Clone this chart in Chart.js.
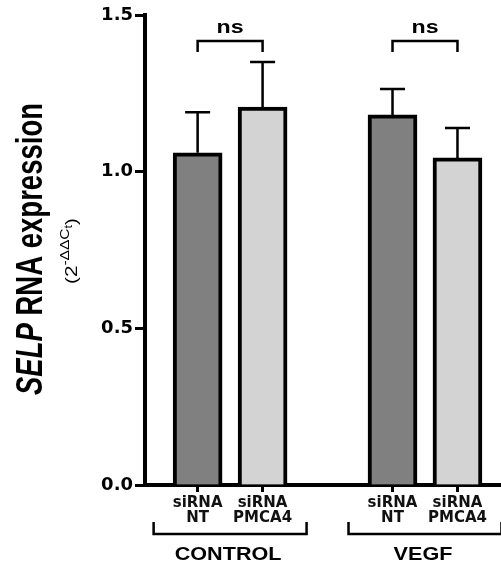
<!DOCTYPE html>
<html><head><meta charset="utf-8">
<script src="https://cdn.jsdelivr.net/npm/chart.js@4/dist/chart.umd.min.js"></script>
<style>html,body{margin:0;padding:0;background:#fff;overflow:hidden}</style>
</head><body>
<div style="position:relative;width:501px;height:563px"><canvas id="c" width="501" height="563"></canvas></div>
<script>
// ---- data ----
const categories = ['siRNA NT', 'siRNA PMCA4', 'siRNA NT', 'siRNA PMCA4'];
const tickLabels = [['siRNA', 'NT'], ['siRNA', 'PMCA4'], ['siRNA', 'NT'], ['siRNA', 'PMCA4']];
const groupOfBar = [0, 0, 1, 1];
const groups = ['CONTROL', 'VEGF'];
const means = [1.06, 1.206, 1.181, 1.044];
const sems = [0.13, 0.144, 0.083, 0.095];
const comparisons = [[0, 1, 'ns'], [2, 3, 'ns']];
const yTicks = [0.0, 0.5, 1.0, 1.5];
const yTitleItalic = 'SELP';
const yTitleRest = ' RNA expression';

// x position: bars inside a group are adjacent, one empty slot between groups
const positions = categories.map((c, i) => {
  const g = groupOfBar[i];
  const idxInGroup = groupOfBar.slice(0, i).filter(v => v === g).length;
  const before = groupOfBar.filter(v => v < g).length;
  return before + g + idxInGroup;
});

function stretchText(ctx, text, cx, by, sx) {
  ctx.save();
  ctx.translate(cx, by);
  ctx.scale(sx, 1);
  ctx.textAlign = 'center';
  ctx.textBaseline = 'alphabetic';
  ctx.fillText(text, 0, 0);
  ctx.restore();
}

const annot = {
  id: 'annot',
  afterDatasetsDraw(chart) {
    const {ctx, scales: {x, y}} = chart;
    ctx.save();
    ctx.strokeStyle = '#000';
    ctx.lineWidth = 2.5;
    positions.forEach((p, i) => {
      const px = x.getPixelForValue(p);
      const yb = y.getPixelForValue(means[i]);
      const yt = y.getPixelForValue(means[i] + sems[i]);
      ctx.beginPath();
      ctx.moveTo(px, yb); ctx.lineTo(px, yt);
      ctx.moveTo(px - 12.5, yt); ctx.lineTo(px + 12.5, yt);
      ctx.stroke();
    });
    ctx.restore();
  },
  afterDraw(chart) {
    const {ctx, scales: {x, y}} = chart;
    ctx.save();
    ctx.strokeStyle = '#000';
    ctx.fillStyle = '#000';
    ctx.lineWidth = 2.5;
    // significance brackets
    comparisons.forEach(([a, b, txt]) => {
      const xa = x.getPixelForValue(positions[a]);
      const xb = x.getPixelForValue(positions[b]);
      ctx.beginPath();
      ctx.moveTo(xa, 52); ctx.lineTo(xa, 41); ctx.lineTo(xb, 41); ctx.lineTo(xb, 52);
      ctx.stroke();
      ctx.font = 'bold 19px "Liberation Sans", Arial, sans-serif';
      stretchText(ctx, txt, (xa + xb) / 2, 33, 1.22);
    });
    // group brackets
    groups.forEach((g, gi) => {
      const idx = groupOfBar.map((v, i) => v === gi ? i : -1).filter(i => i >= 0);
      const xf = x.getPixelForValue(positions[idx[0]]);
      const xl = x.getPixelForValue(positions[idx[idx.length - 1]]);
      ctx.beginPath();
      ctx.moveTo(xf - 44, 522); ctx.lineTo(xf - 44, 534); ctx.lineTo(xl + 44, 534); ctx.lineTo(xl + 44, 522);
      ctx.stroke();
      ctx.font = 'bold 18px "Liberation Sans", Arial, sans-serif';
      stretchText(ctx, g, (xf + xl) / 2 - 2, 560, 1.2);
    });
    // y axis title (rotated)
    const fItal = 'italic bold 37px "Liberation Sans", Arial, sans-serif';
    const fBold = 'bold 37px "Liberation Sans", Arial, sans-serif';
    ctx.font = fItal; const w1 = ctx.measureText(yTitleItalic).width;
    ctx.font = fBold; const w2 = ctx.measureText(yTitleRest).width;
    const total = w1 + w2;
    const sx = 292 / total;
    ctx.save();
    ctx.translate(42, 249);
    ctx.rotate(-Math.PI / 2);
    ctx.scale(sx, 1);
    ctx.textBaseline = 'alphabetic';
    ctx.textAlign = 'left';
    ctx.font = fItal; ctx.fillText(yTitleItalic, -total / 2, 0);
    ctx.font = fBold; ctx.fillText(yTitleRest, -total / 2 + w1, 0);
    ctx.restore();
    // subtitle (2^-ΔΔCt)
    const parts = [
      {t: '(2', f: '16px "Liberation Sans", Arial, sans-serif', dy: 0},
      {t: '-\u0394\u0394C', f: '12px "Liberation Sans", Arial, sans-serif', dy: -8},
      {t: 't', f: '10px "Liberation Sans", Arial, sans-serif', dy: -5},
      {t: ')', f: '16px "Liberation Sans", Arial, sans-serif', dy: 0}
    ];
    let tw = 0;
    parts.forEach(p => { ctx.font = p.f; p.w = ctx.measureText(p.t).width; tw += p.w; });
    const ssx = 66 / tw;
    ctx.save();
    ctx.translate(77, 251);
    ctx.rotate(-Math.PI / 2);
    ctx.scale(ssx, 1);
    ctx.textAlign = 'left';
    ctx.textBaseline = 'alphabetic';
    let cx = -tw / 2;
    parts.forEach(p => { ctx.font = p.f; ctx.fillText(p.t, cx, p.dy); cx += p.w; });
    ctx.restore();
    ctx.restore();
  }
};

new Chart(document.getElementById('c'), {
  type: 'bar',
  data: {
    labels: categories,
    datasets: [{
      label: 'SELP',
      data: positions.map((p, i) => ({x: p, y: means[i]})),
      backgroundColor: ['#808080', '#d3d3d3', '#808080', '#d3d3d3'],
      borderColor: '#000',
      borderWidth: 4,
      barThickness: 49
    }]
  },
  options: {
    responsive: false,
    devicePixelRatio: 1,
    animation: false,
    layout: {padding: {top: 15, right: 0, left: 0, bottom: 0}},
    plugins: {legend: {display: false}, tooltip: {enabled: false}},
    scales: {
      x: {
        type: 'linear',
        position: 'bottom',
        offset: false,
        min: -0.81,
        max: 4.67,
        z: 1,
        afterBuildTicks: s => { s.ticks = positions.map(v => ({value: v})); },
        afterFit: s => { s.height = 78; },
        border: {display: true, color: '#000', width: 4},
        grid: {display: true, offset: false, drawOnChartArea: false, drawTicks: true, tickLength: 7, tickWidth: 3, tickColor: '#000', color: '#000'},
        ticks: {
          autoSkip: false, maxRotation: 0, minRotation: 0, padding: 4, color: '#111',
          font: {family: '"DejaVu Sans"', weight: 'bold', size: 15, lineHeight: 1.0},
          callback: (v, i) => tickLabels[i]
        }
      },
      y: {
        min: 0,
        max: 1.5,
        z: 1,
        afterBuildTicks: s => { s.ticks = yTicks.map(v => ({value: v})); },
        afterFit: s => { s.width = 145; },
        border: {display: true, color: '#000', width: 4},
        grid: {display: true, drawOnChartArea: false, drawTicks: true, tickLength: 10, tickWidth: 3, tickColor: '#000', color: '#000'},
        ticks: {
          padding: 2, color: '#000',
          font: {family: '"DejaVu Sans"', weight: 'bold', size: 18},
          callback: v => Number(v).toFixed(1)
        }
      }
    }
  },
  plugins: [annot]
});
</script>
</body></html>
